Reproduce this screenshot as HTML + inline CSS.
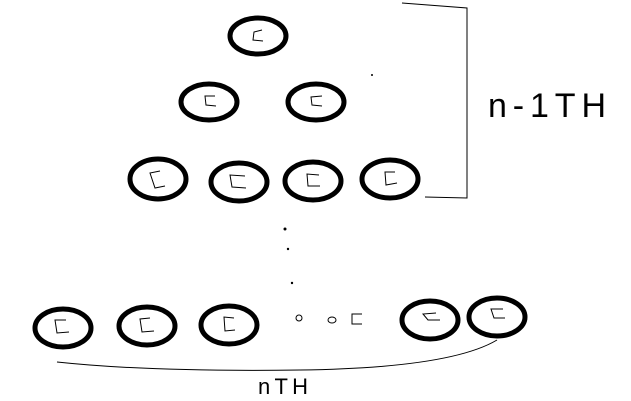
<!DOCTYPE html>
<html><head><meta charset="utf-8"><style>html,body{margin:0;padding:0;background:#fff}svg{display:block}</style></head>
<body>
<svg width="631" height="401" viewBox="0 0 631 401" xmlns="http://www.w3.org/2000/svg">
<rect width="631" height="401" fill="#fff"/>
<g fill="none" stroke="#000" stroke-width="5">
<ellipse cx="258" cy="36" rx="28" ry="18"/>
<ellipse cx="209" cy="102" rx="28" ry="18"/>
<ellipse cx="316" cy="102" rx="28" ry="18"/>
<ellipse cx="158" cy="179" rx="28" ry="20"/>
<ellipse cx="239" cy="182" rx="28" ry="19"/>
<ellipse cx="313" cy="181" rx="28" ry="19"/>
<ellipse cx="390" cy="179" rx="28" ry="19"/>
<ellipse cx="63" cy="328" rx="28" ry="19"/>
<ellipse cx="147" cy="326" rx="28" ry="19"/>
<ellipse cx="229" cy="325" rx="28" ry="19"/>
<ellipse cx="430" cy="320" rx="28" ry="19"/>
<ellipse cx="497" cy="317" rx="28" ry="19"/>
</g>
<g fill="none" stroke="#000" stroke-width="1">
<path d="M262 30 L254 32 L253 40 L263 41"/>
<path d="M215 96 L205 96 L206 105 L216 106"/>
<path d="M322 96 L311 97 L312 105 L322 106"/>
<path d="M160 171 L150 173 L155 188 L165 186"/>
<path d="M245 176 L230 175 L232 187 L246 188"/>
<path d="M319 175 L307 174 L308 186 L320 186"/>
<path d="M395 172 L385 172 L386 185 L397 183"/>
<path d="M66 320 L55 320 L57 333 L69 332"/>
<path d="M150 318 L140 319 L142 332 L154 331"/>
<path d="M234 318 L224 317 L225 331 L235 330"/>
<path d="M436 313 L423 314 L428 320 L440 320"/>
<path d="M503 309 L491 309 L494 318 L505 318"/>
<path d="M296 318 a3 3 0 1 0 6 0 a3 3 0 1 0 -6 0"/>
<ellipse cx="332" cy="320" rx="4" ry="3"/>
<path d="M362 314 L352 314 L352 324 L362 324"/>
<path d="M402 3 L467 8 L467 198 L425 197"/>
<path d="M57 362 Q150 372 300 370 Q450 368 497 340"/>
</g>
<g fill="#000">
<circle cx="285" cy="229" r="1.5"/><circle cx="288" cy="249" r="1.2"/><circle cx="292" cy="283" r="1.2"/><circle cx="372" cy="75" r="1"/>
</g>
<text x="488" y="117" font-family="Liberation Sans, sans-serif" font-size="34" font-weight="100" fill="#000" transform="scale(1,1)" textLength="118">n-1TH</text>
<text x="258" y="394" font-family="Liberation Sans, sans-serif" font-size="22" fill="#000" textLength="50">nTH</text>
</svg>
</body></html>
